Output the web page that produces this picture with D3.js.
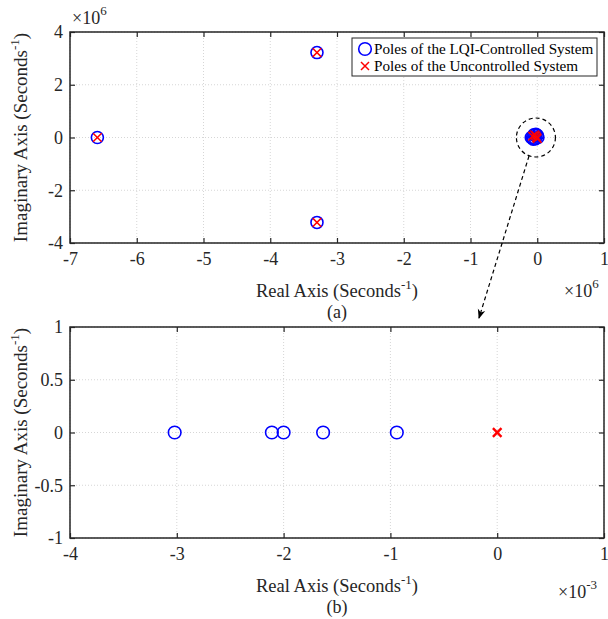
<!DOCTYPE html>
<meta charset="utf-8">
<style>
  body { margin: 0; background: #fff; }
  svg { font-family: "Liberation Serif", "Times New Roman", serif; }
  .domain { display: none; }
  .tick line { stroke: #262626; stroke-width: 1.2; }
</style>
<body>
<div class="chart"></div>
<script src="https://d3js.org/d3.v7.min.js"></script>
<script>
// top plot (x 1e6)
const topLqiRe = [-6.59, -3.30, -3.30, -0.09, -0.07, -0.05, -0.03, 0.0, -0.02, 0.01, -0.06];
const topLqiIm = [0, 3.22, -3.22, 0, 0, 0.10, -0.05, 0.08, 0.12, 0, -0.06];
const topOpenRe = [-6.59, -3.30, -3.30, -0.07, -0.04, -0.01, 0.0, -0.02];
const topOpenIm = [0, 3.22, -3.22, 0.05, 0.10, 0, -0.04, 0.06];
const topXTicks = [-7, -6, -5, -4, -3, -2, -1, 0, 1];
const topYTicks = [-4, -2, 0, 2, 4];

// bottom plot (x 1e-3)
const botLqiRe = [-3.02, -2.11, -2.00, -1.63, -0.94];
const botLqiIm = [0, 0, 0, 0, 0];
const botOpenRe = [0];
const botOpenIm = [0];
const botXTicks = [-4, -3, -2, -1, 0, 1];
const botYTicks = [-1, -0.5, 0, 0.5, 1];

const W = 608, H = 619;
const FONT = '"Liberation Serif", "Times New Roman", serif';
const svg = d3.select(".chart").append("svg").attr("width", W).attr("height", H);

function panel(o) {
    const x = d3.scaleLinear().domain(o.xd).range([70, 604]);
    const y = d3.scaleLinear().domain(o.yd).range([o.bottom, o.top]);
    const g = svg.append("g");

    // grid
    g.append("g").selectAll("line").data(o.xt).join("line")
        .attr("x1", d => x(d)).attr("x2", d => x(d))
        .attr("y1", o.top).attr("y2", o.bottom)
        .attr("stroke", "#d6d6d6").attr("stroke-dasharray", "1,2");
    g.append("g").selectAll("line").data(o.yt).join("line")
        .attr("y1", d => y(d)).attr("y2", d => y(d))
        .attr("x1", 70).attr("x2", 604)
        .attr("stroke", "#d6d6d6").attr("stroke-dasharray", "1,2");

    const fmt = d => String(d);
    const styleTicks = sel => sel.attr("font-family", FONT).attr("font-size", 18)
        .selectAll("text").attr("fill", "#262626");
    g.append("g").attr("transform", `translate(0,${o.bottom})`)
        .call(d3.axisBottom(x).tickValues(o.xt).tickFormat(fmt).tickSize(-5).tickPadding(9))
        .call(styleTicks);
    g.append("g").attr("transform", `translate(0,${o.top})`)
        .call(d3.axisTop(x).tickValues(o.xt).tickFormat("").tickSize(-5));
    g.append("g").attr("transform", "translate(70,0)")
        .call(d3.axisLeft(y).tickValues(o.yt).tickFormat(fmt).tickSize(-5).tickPadding(7))
        .call(styleTicks);
    g.append("g").attr("transform", "translate(604,0)")
        .call(d3.axisRight(y).tickValues(o.yt).tickFormat("").tickSize(-5));

    g.append("rect").attr("x", 70).attr("y", o.top)
        .attr("width", 534).attr("height", o.bottom - o.top)
        .attr("fill", "none").attr("stroke", "#262626").attr("stroke-width", 1.5);

    // markers
    const lqi = o.lqiRe.map((r, i) => [r, o.lqiIm[i]]);
    const open = o.openRe.map((r, i) => [r, o.openIm[i]]);
    g.append("g").selectAll("circle").data(lqi).join("circle")
        .attr("cx", d => x(d[0])).attr("cy", d => y(d[1])).attr("r", o.cr)
        .attr("fill", "none").attr("stroke", "#0000ff").attr("stroke-width", 1.6);
    const s = o.xs;
    g.append("g").selectAll("path").data(open).join("path")
        .attr("d", d => {
            const cx = x(d[0]), cy = y(d[1]);
            return `M${cx - s},${cy - s}L${cx + s},${cy + s}M${cx - s},${cy + s}L${cx + s},${cy - s}`;
        })
        .attr("stroke", "#ff0000").attr("stroke-width", o.xw).attr("fill", "none");

    // labels
    const lab = g.append("text").attr("x", 337).attr("y", o.bottom + o.labDy)
        .attr("text-anchor", "middle").attr("font-size", 18.5).attr("fill", "#262626");
    lab.append("tspan").text("Real Axis (Seconds");
    lab.append("tspan").attr("dy", -8).attr("font-size", 13).text("-1");
    lab.append("tspan").attr("dy", 8).text(")");

    g.append("text").attr("x", 337).attr("y", o.bottom + o.tagDy)
        .attr("text-anchor", "middle").attr("font-size", 18).attr("fill", "#262626").text(o.tag);

    const yl = g.append("text")
        .attr("transform", `translate(27,${(o.top + o.bottom) / 2}) rotate(-90)`)
        .attr("text-anchor", "middle").attr("font-size", 19).attr("fill", "#262626");
    yl.append("tspan").text("Imaginary Axis (Seconds");
    yl.append("tspan").attr("dy", -8).attr("font-size", 13).text("-1");
    yl.append("tspan").attr("dy", 8).text(")");

    const ex = g.append("text").attr("x", o.exX).attr("y", o.exY)
        .attr("font-size", 18).attr("fill", "#262626");
    ex.append("tspan").text("\u00d710");
    ex.append("tspan").attr("dy", -9).attr("font-size", 13).text(o.exp);

    return {x, y, g};
}

const a = panel({
    xd: [-7, 1], yd: [-4, 4], top: 32, bottom: 243, xt: topXTicks, yt: topYTicks,
    lqiRe: topLqiRe, lqiIm: topLqiIm, openRe: topOpenRe, openIm: topOpenIm,
    cr: 6, xs: 4.3, xw: 1.5, tag: "(a)", labDy: 54, tagDy: 75, exX: 564, exY: 297, exp: "6"
});
// top-left exponent for y axis
const ey = svg.append("text").attr("x", 72).attr("y", 24).attr("font-size", 18).attr("fill", "#262626");
ey.append("tspan").text("\u00d710");
ey.append("tspan").attr("dy", -9).attr("font-size", 13).text("6");

panel({
    xd: [-4, 1], yd: [-1, 1], top: 327, bottom: 538, xt: botXTicks, yt: botYTicks,
    lqiRe: botLqiRe, lqiIm: botLqiIm, openRe: botOpenRe, openIm: botOpenIm,
    cr: 6.3, xs: 4.3, xw: 2.4, tag: "(b)", labDy: 54, tagDy: 75, exX: 558, exY: 598, exp: "-3"
});

// legend
const lg = svg.append("g");
lg.append("rect").attr("x", 352).attr("y", 38).attr("width", 245).attr("height", 38)
    .attr("fill", "#fff").attr("stroke", "#262626").attr("stroke-width", 1);
lg.append("circle").attr("cx", 365).attr("cy", 49).attr("r", 6.3)
    .attr("fill", "none").attr("stroke", "#0000ff").attr("stroke-width", 1.6);
lg.append("path").attr("d", "M361,62L369,70M361,70L369,62")
    .attr("stroke", "#ff0000").attr("stroke-width", 1.5);
lg.append("text").attr("x", 374).attr("y", 54).attr("font-size", 15.2).attr("fill", "#000")
    .text("Poles of the LQI-Controlled System");
lg.append("text").attr("x", 374).attr("y", 71).attr("font-size", 15.2).attr("fill", "#000")
    .text("Poles of the Uncontrolled System");

// zoom callout
const cx0 = a.x(-0.02), cy0 = a.y(0);
svg.append("circle").attr("cx", cx0).attr("cy", cy0).attr("r", 19.5)
    .attr("fill", "none").attr("stroke", "#000").attr("stroke-width", 1.2).attr("stroke-dasharray", "4,3");
svg.append("defs").append("marker").attr("id", "ah")
    .attr("viewBox", "0 0 10 10").attr("refX", 9).attr("refY", 5)
    .attr("markerWidth", 8).attr("markerHeight", 8).attr("orient", "auto")
    .append("path").attr("d", "M0,1L10,5L0,9L3,5Z").attr("fill", "#000");
svg.append("line").attr("x1", 529).attr("y1", 156).attr("x2", 479).attr("y2", 318)
    .attr("stroke", "#000").attr("stroke-width", 1.2).attr("stroke-dasharray", "4,3")
    .attr("marker-end", "url(#ah)");
</script>
</body>
